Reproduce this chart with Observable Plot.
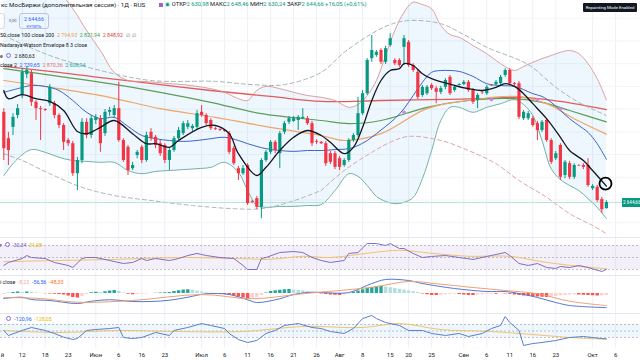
<!DOCTYPE html>
<html><head><meta charset="utf-8">
<script src="https://cdn.jsdelivr.net/npm/d3@7"></script>
<script src="https://cdn.jsdelivr.net/npm/@observablehq/plot@0.6"></script>
<style>
html,body{margin:0;padding:0;background:#fff;}
body{width:640px;height:360px;overflow:hidden;position:relative;font-family:Roboto,"Noto Sans",sans-serif;color:#131722;}
.pane{position:absolute;left:0;width:640px;overflow:hidden;}
.pane svg{display:block;overflow:hidden;}
.sep{position:absolute;left:0;width:640px;height:1px;background:#e3e6ee;}
.t{position:absolute;white-space:nowrap;line-height:1;}
.ic{display:inline-block;width:3px;height:3px;border:1.2px solid #8b6cf0;border-radius:50%;vertical-align:-0.5px;margin:0 2px;}
</style></head><body>
<div id="main" class="pane" style="top:0;height:237px"></div>
<div id="rsi" class="pane" style="top:237px;height:38px"></div>
<div id="macd" class="pane" style="top:275px;height:38px"></div>
<div id="cci" class="pane" style="top:313px;height:47px"></div>
<div class="sep" style="top:237px"></div>
<div class="sep" style="top:275px"></div>
<div class="sep" style="top:313px"></div>

<!-- header -->
<div class="t" style="left:1px;top:2px;font-size:6.2px">кс МосБиржи (дополнительная сессия) · 1Д · RUS</div>
<div class="t" style="left:159px;top:2px;font-size:5.8px"><span style="display:inline-block;width:4px;height:4px;background:#a05ee0;vertical-align:-0.5px"></span>&nbsp;&nbsp;<span style="display:inline-block;width:3px;height:3px;border-radius:50%;background:#089981;vertical-align:0px;box-shadow:0 0 0 1px #b9e5de"></span>&nbsp; ОТКР<span style="color:#089981">2 630,98</span> МАКС<span style="color:#089981">2 648,46</span> МИН<span style="color:#089981">2 630,24</span> ЗАКР<span style="color:#089981">2 644,66 +16,05 (+0,61%)</span></div>
<div style="position:absolute;left:-12px;top:13px;width:15px;height:14px;border:1px solid #d6dbe6;border-radius:3px"></div>
<div class="t" style="left:9px;top:19px;font-size:4px;color:#555">0,00</div>
<div style="position:absolute;left:19px;top:13px;width:28px;height:14px;border:1px solid #b8c4ea;border-radius:3px;text-align:center;color:#2962ff">
  <div style="font-size:5.2px;margin-top:2px">2 644,66</div>
  <div style="font-size:3.8px;margin-top:1.5px">КУПИТЬ</div>
</div>
<div class="t" style="left:0px;top:33px;font-size:5.3px">50 close 100 close 200&nbsp; <span style="color:#f29a4a">2 794,93</span>&nbsp; <span style="color:#43a047">2 821,94</span>&nbsp; <span style="color:#e53935">2 848,92</span>&nbsp; <span style="color:#777">∅&nbsp; ∅</span></div>
<div class="t" style="left:0px;top:43px;font-size:5.3px">Nadaraya-Watson Envelope 8 3 close</div>
<div class="t" style="left:0px;top:53px;font-size:5.3px">e <span class="ic"></span> 2 680,63</div>
<div class="t" style="left:0px;top:63px;font-size:5.3px">close 2&nbsp; <span style="color:#2962ff">2 739,65</span>&nbsp; <span style="color:#e57373">2 870,36</span>&nbsp; <span style="color:#26a69a">2 608,94</span></div>
<div class="t" style="left:583px;top:3px;width:54px;height:9px;background:#131722;color:#fff;font-size:4.3px;line-height:9px;text-align:center;border-radius:1px">Repainting Mode Enabled</div>
<div class="t" style="left:622px;top:198px;width:17px;height:9px;background:#089981;color:#fff;font-size:4.6px;line-height:9px;padding-left:1px;overflow:hidden">2 644,66</div>
<!-- pane legends -->
<div class="t" style="left:0px;top:242px;font-size:5.3px">r <span class="ic"></span> <span style="color:#7e57c2">30,34</span>&nbsp; <span style="color:#e6b800">31,08</span></div>
<div class="t" style="left:0px;top:280px;font-size:5.3px">i close&nbsp; <span style="color:#f4a6a6">-8,23</span>&nbsp; <span style="color:#2962ff">-56,56</span>&nbsp; <span style="color:#ff6d00">-48,33</span></div>
<div class="t" style="left:4px;top:316px;font-size:5.3px"><span class="ic"></span> <span style="color:#2962ff">-120,96</span>&nbsp; <span style="color:#e6b800">-128,05</span></div>

<script>
// ---------- candles (daily, index 0..131) ----------
const open = [2843,2785,2810,2836,2880,2926,2928,2865,2851,2849,
  2862,2862,2836,2814,2781,2774,2708,2737,2821,2792,
  2825,2829,2796,2843,2836,2851,2781,2766,2719,2748,
  2766,2737,2799,2788,2774,2770,2737,2759,2785,2796,
  2810,2807,2810,2843,2836,2825,2807,2805,2803,2796,
  2763,2719,2708,2726,2647,2653,2634,2737,2755,2777,
  2752,2799,2821,2823,2825,2829,2829,2818,2779,2777,
  2774,2752,2752,2741,2726,2737,2781,2792,2840,2884,
  2961,2968,2979,2953,2990,2957,2957,2986,2997,2946,
  2931,2880,2884,2902,2895,2887,2898,2920,2891,2902,
  2904,2909,2891,2869,2887,2884,2902,2904,2906,2924,
  2935,2906,2906,2829,2829,2829,2818,2803,2825,2781,
  2741,2770,2704,2730,2700,2726,2726,2726,2675,2678,2651,2630.98];
const high = [2851,2799,2840,2860,2939,2944,2935,2869,2856,2851,
  2904,2867,2840,2818,2785,2779,2744,2829,2829,2836,
  2838,2836,2849,2854,2858,2909,2785,2770,2733,2759,
  2770,2799,2807,2792,2781,2774,2763,2790,2810,2823,
  2825,2816,2847,2858,2840,2829,2810,2807,2805,2801,
  2768,2724,2726,2730,2649,2658,2741,2759,2781,2781,
  2801,2823,2834,2834,2836,2851,2834,2823,2783,2779,
  2779,2757,2757,2746,2741,2785,2796,2876,2891,2961,
  3012,2979,2983,2988,3016,2961,2961,3012,3001,2950,
  2935,2902,2902,2906,2900,2900,2917,2924,2902,2906,
  2913,2913,2895,2884,2891,2902,2904,2913,2924,2939,
  2939,2909,2911,2847,2845,2834,2823,2825,2829,2785,
  2757,2774,2737,2735,2730,2728,2730,2741,2684,2682,2656,2648.46];
const low = [2737,2726,2792,2829,2873,2917,2856,2825,2781,2845,
  2856,2829,2807,2759,2768,2702,2671,2730,2785,2785,
  2816,2755,2790,2834,2829,2777,2733,2704,2715,2741,
  2730,2733,2779,2763,2746,2730,2715,2755,2781,2792,
  2805,2801,2805,2832,2814,2803,2803,2801,2799,2750,
  2726,2693,2704,2638,2642,2629,2609,2733,2750,2752,
  2719,2794,2816,2821,2803,2827,2814,2768,2772,2772,
  2724,2728,2717,2715,2722,2733,2777,2788,2836,2880,
  2953,2964,2948,2948,2986,2946,2942,2946,2942,2931,
  2871,2876,2880,2891,2862,2882,2893,2880,2887,2900,
  2902,2887,2860,2851,2882,2880,2900,2900,2902,2920,
  2902,2900,2827,2825,2825,2810,2781,2799,2777,2728,
  2737,2693,2697,2695,2695,2724,2717,2678,2671,2645,2620,2630.24];
const close = [2763,2759,2832,2851,2931,2935,2865,2851,2849,2847,
  2898,2836,2814,2777,2774,2708,2737,2821,2792,2829,
  2832,2774,2843,2847,2851,2781,2737,2715,2726,2755,
  2737,2792,2785,2770,2752,2737,2759,2785,2803,2818,
  2818,2812,2840,2836,2818,2807,2805,2803,2801,2755,
  2730,2708,2719,2642,2645,2634,2737,2755,2777,2759,
  2796,2818,2829,2829,2832,2832,2818,2774,2777,2774,
  2730,2733,2722,2722,2737,2781,2792,2840,2884,2957,
  2979,2975,2953,2983,3005,2950,2946,3005,2946,2935,
  2876,2898,2898,2895,2887,2895,2913,2884,2898,2904,
  2909,2891,2865,2880,2886,2898,2901,2909,2920,2935,
  2906,2904,2832,2843,2840,2814,2803,2821,2781,2733,
  2752,2700,2733,2700,2726,2725,2722,2682,2680,2649,2628.6,2644.66];
const lastClose = 2644.66;

// ---------- overlay indicators (read at sample bars) ----------
const ma200Idx = [0,12,23,34,45,58,69,82,93,104,113,121,131];
const ma200    = [2944,2931,2917,2904,2891,2878,2867,2869,2871,2873,2876,2867,2848.92];
const ma100Idx = [0,12,23,34,45,56,69,75,82,92,101,111,117,123,131];
const ma100    = [2939,2922,2906,2887,2865,2840,2825,2818,2825,2854,2869,2873,2865,2847,2821.94];
const ma50Idx  = [0,12,23,34,46,58,69,74,82,92,101,111,118,124,131];
const ma50     = [2913,2895,2876,2851,2832,2810,2792,2781,2796,2851,2869,2878,2862,2829,2794.93];

const bbIdx = [0,3,6,9,12,15,18,21,24,27,30,33,36,39,42,45,48,51,53,55,57,60,63,66,69,72,75,77,79,81,83,85,87,89,91,93,95,97,99,102,105,108,111,113,115,117,119,121,123,125,127,129,131];
const bbUpper = [3144,3144,3137,3122,3107,3071,3023,2979,2931,2913, 2911,2909,2906,2904,2900,2895,2887,2873,2869,2891,
  2900,2895,2887,2880,2876,2869,2854,2860,2880,2913, 2968,3023,3063,3085,3080,3071,3034,3014,3008,2990,
  2972,2950,2935,2944,2953,2961,2968,2975,2979,2972, 2950,2917,2870.36];
const bbBasis = [2887,2895,2902,2900,2891,2869,2843,2829,2832,2812, 2792,2785,2781,2779,2781,2785,2788,2781,2774,2768,
  2763,2759,2757,2759,2759,2761,2763,2770,2781,2796, 2812,2829,2851,2880,2909,2931,2935,2935,2933,2922,
  2906,2902,2900,2893,2884,2878,2865,2847,2829,2814, 2799,2774,2739.65];
const bbLower = [2704,2741,2761,2755,2744,2737,2735,2733,2733,2715, 2708,2713,2715,2717,2719,2722,2733,2711,2671,2638,
  2634,2636,2636,2638,2640,2671,2708,2702,2682,2658, 2647,2642,2645,2656,2697,2759,2825,2854,2854,2843,
  2854,2862,2871,2860,2836,2781,2719,2695,2682,2671, 2653,2634,2608.94];

const nwUpIdx = [0,10,21,32,46,54,61,69,74,80,84,88,95,100,105,114,120,125,131];
const nwUp    = [3012,2968,2935,2913,2911,2904,2904,2931,2975,3016,3036,3045,3038,3014,2986,2948,2898,2865,2836];
const nwLoIdx = [0,4,10,17,24,32,41,50,56,62,69,74,80,84,88,95,101,107,112,118,123,128,131];
const nwLo    = [2752,2737,2708,2678,2660,2649,2638,2631,2631,2645,2671,2715,2755,2777,2790,2781,2759,2730,2693,2656,2620,2594,2576];
const nwLoSplit = 69; // lower envelope drawn grey before this bar, pink after

const emaIdx = [0,1,4,7,10,13,16,18,21,24,28,31,33,36,38,43,46,49,51,55,57,60,63,66,69,71,74,76,78,80,82,84,86,87,89,91,93,98,101,104,107,109,111,113,115,118,121,123,126,128,131];
const ema    = [2891,2873,2882,2873,2867,2847,2801,2796,2810,2825,2796,2774,2774,2766,2781,2810,2814,2796,2752,2704,
  2722,2759,2788,2803,2792,2777,2752,2766,2810,2869,2913,2935,2939,2950,2946,2928,2917,2902,2895,2891,
  2898,2906,2900,2884,2862,2829,2788,2759,2737,2715,2680.63];

const crossIdx = [87,106,116,121];
const crossVal = [2843,2871,2871,2851];
const noteIdx = [130.8];
const noteVal = [2686];

// ---------- RSI ----------
const rsiIdx = [0,1,4,5,6,9,11,14,15,17,18,20,23,26,28,30,31,33,36,38,40,42,44,47,50,52,53,55,56,57,60,63,65,67,69,71,74,75,77,79,81,83,84,86,87,89,91,93,96,99,102,105,109,110,112,114,116,118,120,121,123,125,127,130,131];
const rsi = [36.7,41.7,48.3,53.3,50,48.3,41.7,36.7,33.3,48.3, 50,50,45,40,41.7,48.3,45,48.3,45,48.3,
  53.3,56.7,53.3,50,48.3,36.7,30,30,48.3,50, 58.3,60,58.3,50,45,41.7,45,56.7,58.3,73.3,
  73.3,70,73.3,65,65,56.7,50,51.7,53.3,50, 46.7,51.7,58.3,53.3,40,36.7,40,33.3,31.7,35,
  33.3,36.7,33.3,26.7,30.34];
const rsiMaIdx = [0,12,25,38,52,58,65,71,80,86,93,101,110,117,123,131];
const rsiMa    = [43,45,47,50,48,47,52,50,58,62,57,52,52,43,37,31.08];
const rsiLevels = [70,50,30];

// ---------- MACD ----------
const macdIdx = [0,4,6,10,16,19,23,28,32,36,40,44,49,53,55,60,63,67,69,75,80,83,88,91,98,105,109,112,116,120,123,131];
const macd    = [-20,-15,-24,-28,-40,-31,-25,-32,-32,-27,-15,-1,-4,-25,-36,-21,-4,5,4,4,40,56,52,40,20,8,8,0,-16,-36,-48,-56.56];
const sigIdx  = [0,8,16,28,43,54,65,80,88,94,102,109,116,123,131];
const signal  = [-16,-20,-35,-28,-4,-21,-1,25,48,39,24,12,-1,-31,-48.33];
const hist = [-1,1,4,6,4,6,5,2,1,-1, -2,-3,-4,-6,-10,-16,-18,-12,-4,3, 5,4,7,10,12,8,2,-3,-5,-4,
  -3,-2,0,1,2,3,4,8,11,14, 15,14,10,6,3,1,-1,-3,-4,-6, -10,-14,-18,-20,-19,-16,-8,2,8,11,
  13,15,16,14,13,11,8,5,2,-2, -4,-6,-7,-8,-6,-2,5,10,15,20, 24,27,28,26,23,20,17,14,10,7,
  4,-2,-5,-8,-8,-7,-5,-4,-3,-4, -6,-8,-8,-6,-5,-4,-3,-3,-2,-2, -3,-6,-8,-10,-11,-12,-14,-15,-16,-14,
  -12,-9,-7,-6,-5,-6,-7,-8,-9,-10, -9,-8.23];

// ---------- CCI ----------
const cciIdx = [0,1,4,6,9,11,13,15,16,18,20,23,25,26,28,30,33,36,37,40,43,45,48,49,51,53,55,57,59,61,64,67,69,71,74,76,78,80,81,83,86,88,91,93,96,99,101,104,106,108,109,110,112,113,115,117,120,123,126,128,130,131];
const cci = [8,-69,8,54,8,-38,-95,-131,-116,8, 23,38,54,-100,-116,-100,-23,-69,8,54,
  115,85,38,-38,-131,-177,-146,-38,8,85, 115,54,38,-8,-38,38,192,239,192,131,
  85,8,8,-38,-69,-38,-85,-38,38,85, 223,131,8,-223,-193,-177,-146,-100,-85,-100, -116,-120.96];
const cciMaIdx = [0,12,25,38,52,65,78,86,95,106,115,123,131];
const cciMa    = [8,-23,8,-8,-8,69,54,115,23,-8,-54,-100,-128.05];
const cciLevels = [100,0,-100];

// ---------- time axis ----------
const tickIdx = [-0.3,4,9,14,20,25,30,35,43,48,53,58,63,68,73,78,84,88,93,100,105,110,115,120,128,133];
const tickLabels = ["й","12","18","23","Июн","6","16","23","Июл","6","11","16","21","26","Авг","8","15","20","25","Сен","6","11","16","23","Окт","6"];

// ================= drawing =================
const GREEN = "#089981", RED = "#f23645";
const X = {domain: [-3.3/4.6, (640-3.3)/4.6], axis: null};
const ser = (idx, vals) => idx.map((i, k) => ({i, v: vals[k]}));
const candles = open.map((o, i) => ({i, o, h: high[i], l: low[i], c: close[i],
  col: close[i] >= o ? GREEN : RED}));
const bb = bbIdx.map((i, k) => ({i, up: bbUpper[k], mid: bbBasis[k], lo: bbLower[k]}));
const nwLower = ser(nwLoIdx, nwLo);
const grid = Plot.ruleX(tickIdx.slice(1), {stroke: "#eef0f5", strokeWidth: 1});
const curve = "catmull-rom";

const mainPlot = Plot.plot({
  width: 640, height: 237, margin: 0,
  x: X, y: {domain: [3089 - 2.2 * 237, 3089], axis: null},
  color: {type: "identity"},
  style: {background: "#fff"},
  marks: [
    grid,
    Plot.ruleY(d3.range(2600, 3100, 50), {stroke: "#f2f4f8"}),
    Plot.areaY(bb, {x: "i", y1: "lo", y2: "up", fill: "#2196f3", fillOpacity: 0.075, curve, clip: true}),
    Plot.line(ser(ma200Idx, ma200), {x: "i", y: "v", stroke: "#e35b5b", strokeWidth: 1.3, curve}),
    Plot.line(ser(ma100Idx, ma100), {x: "i", y: "v", stroke: "#5c9e58", strokeWidth: 1.2, curve}),
    Plot.line(ser(ma50Idx, ma50), {x: "i", y: "v", stroke: "#efa56a", strokeWidth: 1.2, curve}),
    Plot.line(bb, {x: "i", y: "up", stroke: "#dc9696", strokeWidth: 0.9, curve, clip: true}),
    Plot.line(bb, {x: "i", y: "lo", stroke: "#5fa89b", strokeWidth: 0.9, curve, clip: true}),
    Plot.line(bb, {x: "i", y: "mid", stroke: "#3d63c8", strokeWidth: 1, curve, clip: true}),
    Plot.line(ser(nwUpIdx, nwUp), {x: "i", y: "v", stroke: "#a3b5b0", strokeWidth: 1, strokeDasharray: "4,3", curve, clip: true}),
    Plot.line(nwLower.filter(d => d.i <= nwLoSplit), {x: "i", y: "v", stroke: "#adb5bb", strokeWidth: 1, strokeDasharray: "4,3", curve, clip: true}),
    Plot.line(nwLower.filter(d => d.i >= nwLoSplit), {x: "i", y: "v", stroke: "#dba3ab", strokeWidth: 1, strokeDasharray: "4,3", curve, clip: true}),
    Plot.ruleY([lastClose], {stroke: "#a9d9d1", strokeWidth: 0.8}),
    Plot.ruleX(candles, {x: "i", y1: "l", y2: "h", stroke: "col", strokeWidth: 1}),
    Plot.ruleX(candles, {x: "i", y1: "o", y2: "c", stroke: "col", strokeWidth: 3.2}),
    Plot.line(ser(emaIdx, ema), {x: "i", y: "v", stroke: "#131722", strokeWidth: 1.3, curve}),
    Plot.dot(ser(crossIdx, crossVal), {x: "i", y: "v", r: 1.8, fill: "#d77ee6"}),
    Plot.dot(ser(noteIdx, noteVal), {x: "i", y: "v", r: 6, stroke: "#000", strokeWidth: 1.8, fill: "none"})
  ]
});
document.getElementById("main").appendChild(mainPlot);

const rsiPlot = Plot.plot({
  width: 640, height: 38, margin: 0,
  x: X, y: {domain: [20, 70 + 8 / 0.6], axis: null},
  color: {type: "identity"},
  marks: [
    grid,
    Plot.areaY([X.domain[0], X.domain[1]], {x: d => d, y1: () => 30, y2: () => 70, fill: "#7e57c2", fillOpacity: 0.09}),
    Plot.ruleY(rsiLevels, {stroke: "#8f8f9a", strokeOpacity: 0.7, strokeDasharray: "2,2", strokeWidth: 0.8}),
    Plot.line(ser(rsiMaIdx, rsiMa), {x: "i", y: "v", stroke: "#f3c26a", strokeWidth: 1, curve}),
    Plot.line(ser(rsiIdx, rsi), {x: "i", y: "v", stroke: "#7e6fc4", strokeWidth: 1})
  ]
});
document.getElementById("rsi").appendChild(rsiPlot);

const histData = hist.map((v, i) => {
  const p = i > 0 ? hist[i - 1] : v;
  const col = v >= 0 ? (v >= p ? "#26a69a" : "#b2dfdb") : (v <= p ? "#ff5252" : "#ffcdd2");
  return {i, v, col};
});
const macdPlot = Plot.plot({
  width: 640, height: 38, margin: 0,
  x: X, y: {domain: [-80, 72], axis: null},
  color: {type: "identity"},
  marks: [
    grid,
    Plot.ruleX(histData, {x: "i", y1: () => 0, y2: "v", stroke: "col", strokeWidth: 3.4}),
    Plot.line(ser(macdIdx, macd), {x: "i", y: "v", stroke: "#5477d6", strokeWidth: 1, curve}),
    Plot.line(ser(sigIdx, signal), {x: "i", y: "v", stroke: "#f0a070", strokeWidth: 1, curve})
  ]
});
document.getElementById("macd").appendChild(macdPlot);

const tickMap = new Map(tickIdx.map((t, k) => [t, tickLabels[k]]));
const cciPlot = Plot.plot({
  width: 640, height: 47, marginTop: 0, marginLeft: 0, marginRight: 0, marginBottom: 12,
  x: {domain: X.domain, ticks: tickIdx, tickFormat: d => tickMap.get(d), tickSize: 0, tickPadding: 4, label: null},
  y: {domain: [-269.5, 269.5], axis: null},
  color: {type: "identity"},
  style: {fontSize: "6px", fontFamily: "Roboto, sans-serif", color: "#131722"},
  marks: [
    grid,
    Plot.areaY([X.domain[0], X.domain[1]], {x: d => d, y1: () => -100, y2: () => 100, fill: "#2196f3", fillOpacity: 0.08}),
    Plot.ruleY(cciLevels, {stroke: "#8f8f9a", strokeOpacity: 0.7, strokeDasharray: "2,2", strokeWidth: 0.8}),
    Plot.line(ser(cciMaIdx, cciMa), {x: "i", y: "v", stroke: "#f3c26a", strokeWidth: 1, curve}),
    Plot.line(ser(cciIdx, cci), {x: "i", y: "v", stroke: "#5a7fd0", strokeWidth: 1})
  ]
});
document.getElementById("cci").appendChild(cciPlot);
</script>
</body></html>
